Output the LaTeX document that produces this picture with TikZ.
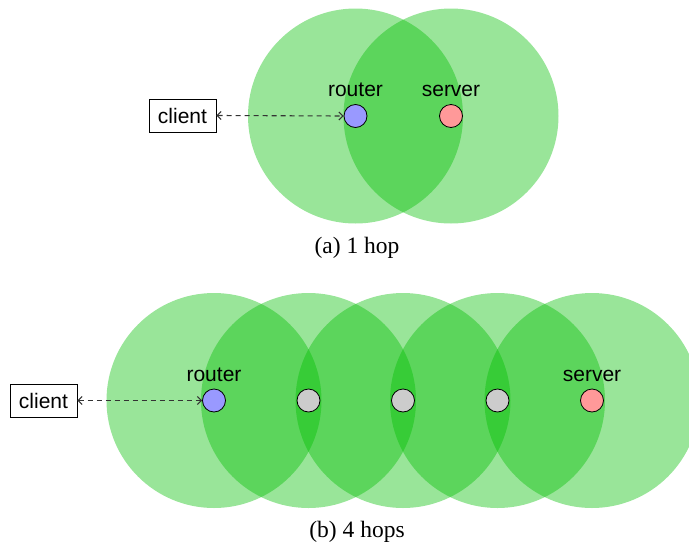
\documentclass[tikz,border=0pt]{standalone}
\usepackage{fontspec}
\usetikzlibrary{arrows.meta}
\setmainfont{Liberation Serif}
\setsansfont{Liberation Sans}
\definecolor{zone}{RGB}{0,190,0}
\definecolor{rtr}{RGB}{153,153,255}
\definecolor{srv}{RGB}{255,153,153}
\definecolor{hop}{RGB}{204,204,204}
\tikzset{
  zonecirc/.style={fill=zone, fill opacity=0.4, draw=none},
  dev/.style={circle, draw=black, line width=0.8pt, minimum size=23pt, inner sep=0pt},
  lbl/.style={font=\sffamily\fontsize{21}{25}\selectfont, anchor=base, inner sep=0pt},
  clientbox/.style={draw=black, line width=0.8pt, minimum width=67pt, minimum height=33pt, inner sep=0pt, font=\sffamily\fontsize{21}{25}\selectfont},
  link/.style={{Straight Barb[length=4pt,width=8pt]}-{Straight Barb[length=4pt,width=8pt]}, dash pattern=on 5pt off 4pt, line width=1.1pt, black!80},
  capt/.style={font=\fontsize{23.5}{28}\selectfont, anchor=base, inner sep=0pt}
}
\begin{document}
\begin{tikzpicture}[x=1pt,y=-1pt]
\useasboundingbox (0,0) rectangle (689,547);
% (a) 1 hop
\fill[zonecirc] (355.5,116) circle (107.5);
\fill[zonecirc] (451,116) circle (107.5);
\node[dev, fill=rtr] (r1) at (355.5,116) {};
\node[dev, fill=srv] (s1) at (451,116) {};
\node[lbl] (r1l) at (355.5,96) {router};
\node[lbl] (s1l) at (451,96) {server};
\node[clientbox] (c1) at (182.5,115.5) {client};
\draw[link] (c1.east) -- (r1.west);
\node[capt] (ca) at (357,253) {(a) 1 hop};
% (b) 4 hops
\foreach \x in {214,308.5,403,497.5,592}{
  \fill[zonecirc] (\x,400.5) circle (107.5);
}
\node[dev, fill=rtr] (r2) at (214,400.5) {};
\node[dev, fill=hop] (h1) at (308.5,400.5) {};
\node[dev, fill=hop] (h2) at (403,400.5) {};
\node[dev, fill=hop] (h3) at (497.5,400.5) {};
\node[dev, fill=srv] (s2) at (592,400.5) {};
\node[lbl] (r2l) at (214,381) {router};
\node[lbl] (s2l) at (592,381) {server};
\node[clientbox] (c2) at (43.5,400.5) {client};
\draw[link] (c2.east) -- (r2.west);
\node[capt] (cb) at (357,537) {(b) 4 hops};
\end{tikzpicture}
\end{document}
